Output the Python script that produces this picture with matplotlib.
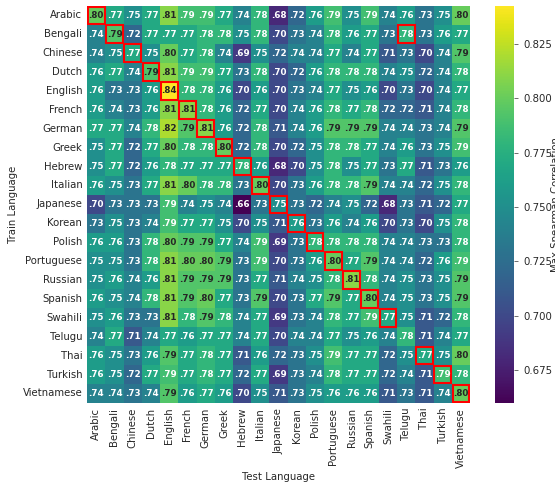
import matplotlib
matplotlib.use("Agg")
import matplotlib.pyplot as plt
from matplotlib.patches import Rectangle
import numpy as np
import seaborn as sns

langs = ["Arabic", "Bengali", "Chinese", "Dutch", "English", "French", "German",
         "Greek", "Hebrew", "Italian", "Japanese", "Korean", "Polish", "Portuguese",
         "Russian", "Spanish", "Swahili", "Telugu", "Thai", "Turkish", "Vietnamese"]

# max spearman correlation, rows = train language, cols = test language
corr = [
    [.80, .77, .75, .77, .81, .787, .787, .77, .74, .78, .68, .72, .76, .787, .75, .787, .74, .76, .73, .75, .80],
    [.74, .793, .72, .77, .77, .77, .78, .78, .75, .78, .70, .73, .74, .78, .76, .77, .73, .78, .73, .76, .77],
    [.74, .75, .77, .75, .80, .77, .78, .74, .69, .75, .72, .74, .74, .77, .74, .77, .71, .73, .70, .74, .793],
    [.76, .77, .74, .793, .81, .787, .787, .77, .73, .78, .70, .72, .76, .78, .78, .78, .74, .75, .72, .74, .78],
    [.76, .73, .73, .76, .8425, .78, .78, .76, .70, .76, .70, .73, .74, .77, .75, .76, .70, .73, .70, .74, .77],
    [.76, .74, .73, .76, .81, .81, .78, .76, .72, .77, .70, .74, .76, .78, .77, .78, .72, .72, .71, .74, .78],
    [.77, .77, .74, .78, .82, .793, .81, .76, .72, .78, .71, .74, .76, .793, .793, .793, .74, .74, .73, .74, .793],
    [.75, .77, .72, .77, .80, .78, .78, .80, .72, .78, .70, .72, .75, .78, .78, .77, .74, .76, .73, .75, .787],
    [.75, .77, .72, .76, .78, .77, .77, .77, .78, .76, .68, .70, .75, .78, .75, .77, .73, .77, .71, .73, .76],
    [.76, .75, .73, .77, .81, .80, .78, .78, .73, .80, .70, .73, .76, .78, .78, .793, .74, .74, .72, .75, .78],
    [.70, .73, .73, .73, .787, .74, .75, .74, .66, .73, .75, .73, .72, .74, .75, .72, .68, .73, .71, .72, .77],
    [.73, .75, .73, .74, .787, .77, .77, .75, .70, .75, .71, .76, .73, .76, .74, .76, .70, .73, .70, .75, .78],
    [.76, .76, .73, .78, .80, .793, .793, .77, .74, .787, .69, .73, .78, .78, .78, .78, .74, .74, .73, .73, .78],
    [.75, .75, .73, .78, .81, .80, .80, .793, .73, .787, .70, .73, .76, .80, .77, .793, .74, .74, .72, .76, .787],
    [.75, .76, .74, .76, .81, .793, .793, .793, .73, .77, .71, .74, .75, .78, .81, .78, .74, .75, .73, .75, .793],
    [.76, .75, .74, .78, .81, .793, .80, .77, .73, .793, .70, .73, .77, .793, .77, .80, .74, .75, .73, .75, .793],
    [.75, .76, .73, .73, .81, .78, .793, .78, .74, .77, .69, .73, .74, .78, .77, .787, .77, .75, .71, .72, .78],
    [.74, .77, .71, .74, .77, .76, .77, .77, .74, .77, .70, .74, .74, .77, .75, .76, .74, .78, .71, .74, .77],
    [.76, .75, .73, .76, .793, .77, .78, .77, .71, .76, .72, .73, .75, .787, .77, .77, .72, .75, .77, .75, .80],
    [.76, .75, .72, .77, .787, .77, .78, .77, .72, .77, .69, .73, .74, .78, .77, .77, .72, .74, .71, .787, .78],
    [.74, .74, .73, .74, .793, .76, .77, .76, .70, .75, .71, .73, .75, .76, .76, .76, .71, .73, .71, .74, .80],
]

# highlighted (train, test) cells
boxed = [(l, l) for l in langs if l != "Telugu"] + [("Bengali", "Telugu")]

data = np.array(corr)
fs = 7.3

fig = plt.figure(figsize=(5.55, 4.86), dpi=100)
ax = fig.add_axes([0.157, 0.171, 0.690, 0.817])
cax = fig.add_axes([0.892, 0.171, 0.034, 0.817])

sns.heatmap(data, ax=ax, cbar_ax=cax, cmap="viridis", vmin=0.66, vmax=0.8425,
            xticklabels=langs, yticklabels=langs, annot=False)

for i in range(len(langs)):
    for j in range(len(langs)):
        v = data[i, j]
        txt = ("%.2f" % v).lstrip("0")
        col = "#262626" if v >= 0.79 else "white"
        ax.text(j + 0.5, i + 0.5, txt, ha="center", va="center",
                fontsize=6.3, fontweight="bold", color=col)

for tr, te in boxed:
    r = langs.index(tr)
    c = langs.index(te)
    ax.add_patch(Rectangle((c + 0.04, r + 0.04), 0.92, 0.92, fill=False,
                           edgecolor="red", linewidth=1.5))

ax.set_xlabel("Test Language", fontsize=fs, color="#262626", labelpad=3)
ax.set_ylabel("Train Language", fontsize=fs, color="#262626", labelpad=3)
ax.tick_params(axis="both", labelsize=fs, length=0, labelcolor="#262626")
plt.setp(ax.get_xticklabels(), rotation=90)
plt.setp(ax.get_yticklabels(), rotation=0)

cax.tick_params(labelsize=fs, length=3, width=0.6, color="#555555", labelcolor="#262626")
cax.set_yticks([0.675, 0.700, 0.725, 0.750, 0.775, 0.800, 0.825])
cax.set_ylabel("Max Spearman Correlation", fontsize=fs, color="#262626", labelpad=-1)

fig.savefig("out.png", dpi=100)
